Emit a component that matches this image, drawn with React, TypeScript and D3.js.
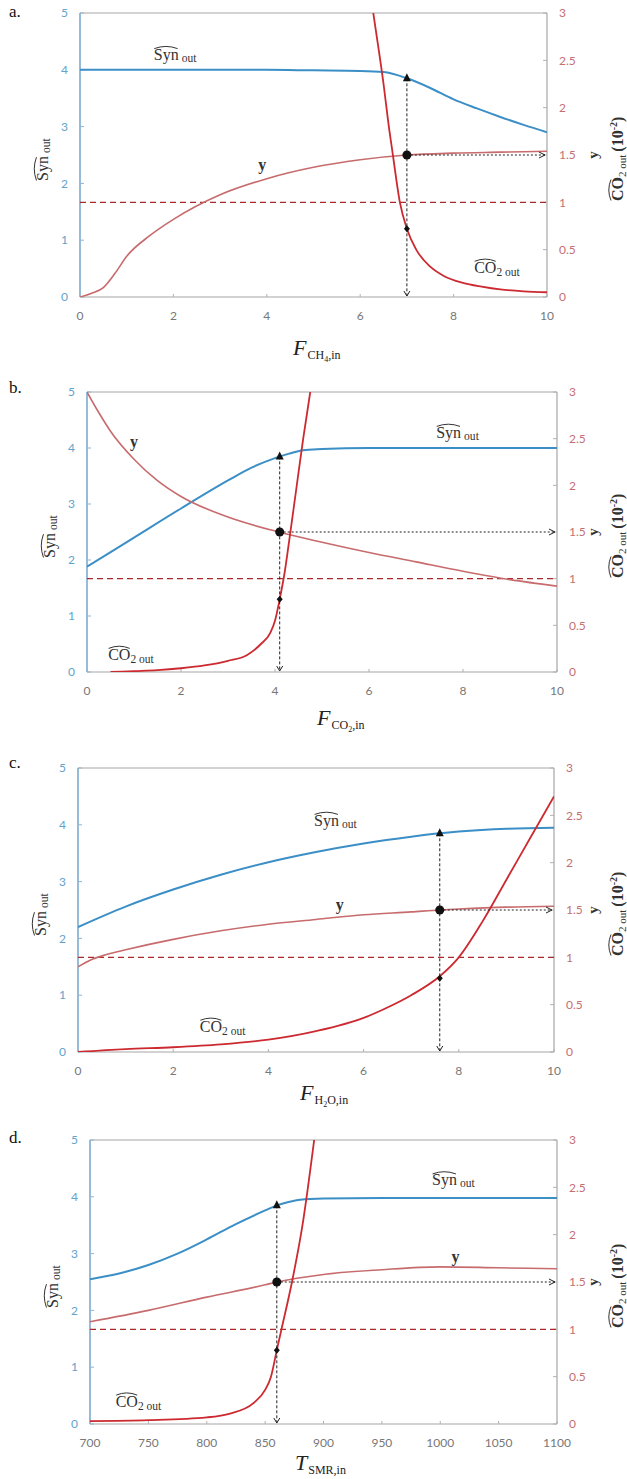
import React from 'react';
import * as d3 from 'd3';

// ---------- Data (left axis: Syn_out 0-5; right axis: y & CO2_out 0-3) ----------
// Panel a: F_CH4,in
const aSynX = [0, 1, 2, 3, 4, 5, 6, 6.5, 7, 7.5, 8, 8.5, 9, 9.5, 10];
const aSyn = [4.0, 4.0, 4.0, 4.0, 4.0, 3.99, 3.98, 3.96, 3.85, 3.68, 3.48, 3.32, 3.17, 3.03, 2.9];
const aYX = [0, 0.25, 0.5, 0.75, 1, 1.5, 2, 3, 4, 5, 6, 7, 8, 9, 10];
const aY = [0, 0.04, 0.1, 0.25, 0.43, 0.65, 0.82, 1.08, 1.25, 1.37, 1.45, 1.5, 1.52, 1.53, 1.54];
const aCO2X = [6.28, 6.4, 6.5, 6.6, 6.7, 6.85, 7.0, 7.2, 7.5, 7.8, 8.2, 8.6, 9, 9.5, 10];
const aCO2 = [3.0, 2.6, 2.25, 1.85, 1.5, 1.0, 0.72, 0.5, 0.32, 0.22, 0.15, 0.11, 0.08, 0.06, 0.05];

// Panel b: F_CO2,in
const bSynX = [0, 1, 2, 3, 3.5, 4, 4.3, 4.6, 5, 6, 8, 10];
const bSyn = [1.88, 2.4, 2.92, 3.42, 3.65, 3.82, 3.9, 3.96, 3.98, 4.0, 4.0, 4.0];
const bYX = [0, 0.25, 0.5, 1, 1.5, 2, 3, 4, 5, 6, 7, 8, 9, 10];
const bY = [3.0, 2.78, 2.58, 2.28, 2.05, 1.88, 1.66, 1.51, 1.39, 1.28, 1.18, 1.08, 0.99, 0.92];
const bCO2X = [0.5, 1, 1.5, 2, 2.5, 3, 3.4, 3.7, 3.9, 4.0, 4.1, 4.2, 4.3, 4.45, 4.6, 4.75];
const bCO2 = [0, 0.01, 0.02, 0.04, 0.07, 0.12, 0.18, 0.3, 0.42, 0.55, 0.78, 1.05, 1.4, 1.95, 2.5, 3.0];

// Panel c: F_H2O,in
const cSynX = [0, 1, 2, 3, 4, 5, 6, 7, 7.6, 8, 9, 10];
const cSyn = [2.2, 2.56, 2.86, 3.12, 3.34, 3.52, 3.67, 3.79, 3.85, 3.88, 3.93, 3.95];
const cYX = [0, 0.3, 0.6, 1, 2, 3, 4, 5, 6, 7, 7.6, 8, 9, 10];
const cY = [0.9, 0.98, 1.03, 1.08, 1.19, 1.28, 1.35, 1.4, 1.45, 1.48, 1.5, 1.51, 1.53, 1.54];
const cCO2X = [0, 1, 2, 3, 4, 5, 6, 6.5, 7, 7.6, 8, 8.5, 9, 9.5, 10];
const cCO2 = [0, 0.03, 0.05, 0.08, 0.13, 0.22, 0.36, 0.47, 0.6, 0.8, 1.0, 1.38, 1.82, 2.26, 2.7];

// Panel d: T_SMR,in
const dSynX = [700, 725, 750, 775, 800, 825, 850, 860, 870, 880, 900, 950, 1000, 1100];
const dSyn = [2.55, 2.65, 2.8, 3.0, 3.25, 3.52, 3.76, 3.85, 3.91, 3.95, 3.97, 3.98, 3.98, 3.98];
const dYX = [700, 750, 800, 850, 860, 900, 950, 1000, 1050, 1100];
const dY = [1.08, 1.2, 1.34, 1.47, 1.5, 1.58, 1.63, 1.66, 1.65, 1.64];
const dCO2X = [700, 750, 800, 820, 840, 850, 855, 860, 864, 873, 882, 892];
const dCO2 = [0.03, 0.04, 0.07, 0.11, 0.22, 0.36, 0.5, 0.78, 1.0, 1.5, 2.1, 3.0];

// Operating points
const markX = [7, 4.1, 7.6, 860];
const markSyn = [3.85, 3.85, 3.85, 3.85];
const markY = [1.5, 1.5, 1.5, 1.5];
const markCO2 = [0.72, 0.78, 0.78, 0.78];
const limitLine = 1; // right axis

const leftTicks = [0, 1, 2, 3, 4, 5];
const rightTicks = [0, 0.5, 1, 1.5, 2, 2.5, 3];
const rightTickLabels = ['0', '0.5', '1', '1.5', '2', '2.5', '3'];
const xTicksF = [0, 2, 4, 6, 8, 10];
const xTicksT = [700, 750, 800, 850, 900, 950, 1000, 1050, 1100];

const panelLetters = ['a.', 'b.', 'c.', 'd.'];

// ---------- Styles ----------
const C_SYN = '#3b8fc6';
const C_Y = '#c76b6d';
const C_CO2 = '#cc2a30';
const C_LIMIT = '#a82a2a';
const SERIF = '"Liberation Serif", "Times New Roman", serif';
const SANS = 'Lato, "Open Sans", sans-serif';

type Layout = {
  left: number; right: number; top: number; bottom: number;
  domain: [number, number]; ticks: number[];
  titleBase: number; titleX: number;
  synLab: [number, number]; yLab: [number, number]; co2Lab: [number, number];
  letterY: number;
};

const layouts: Layout[] = [
  { left: 80, right: 547, top: 13, bottom: 297, domain: [0, 10], ticks: xTicksF, titleBase: 355, titleX: 293,
    synLab: [1.58, 4.17], yLab: [3.9, 2.24], co2Lab: [8.44, 0.42], letterY: 17 },
  { left: 87, right: 557, top: 392, bottom: 672, domain: [0, 10], ticks: xTicksF, titleBase: 725, titleX: 317,
    synLab: [7.43, 4.18], yLab: [1.0, 4.02], co2Lab: [0.45, 0.21], letterY: 393 },
  { left: 78, right: 554, top: 768, bottom: 1052, domain: [0, 10], ticks: xTicksF, titleBase: 1100, titleX: 300,
    synLab: [4.96, 3.98], yLab: [5.5, 2.5], co2Lab: [2.56, 0.35], letterY: 768 },
  { left: 90, right: 557, top: 1140, bottom: 1424, domain: [700, 1100], ticks: xTicksT, titleBase: 1470, titleX: 295,
    synLab: [993, 4.2], yLab: [1013, 2.85], co2Lab: [722, 0.3], letterY: 1143 },
];

const series = [
  { synX: aSynX, syn: aSyn, yX: aYX, y: aY, co2X: aCO2X, co2: aCO2 },
  { synX: bSynX, syn: bSyn, yX: bYX, y: bY, co2X: bCO2X, co2: bCO2 },
  { synX: cSynX, syn: cSyn, yX: cYX, y: cY, co2X: cCO2X, co2: cCO2 },
  { synX: dSynX, syn: dSyn, yX: dYX, y: dY, co2X: dCO2X, co2: dCO2 },
];

const titleParts: { v: string; s: string; n?: string; t?: string }[] = [
  { v: 'F', s: 'CH', n: '4', t: ',in' },
  { v: 'F', s: 'CO', n: '2', t: ',in' },
  { v: 'F', s: 'H', n: '2', t: 'O,in' },
  { v: 'T', s: 'SMR,in' },
];

function Hat({ x, y, w, h = 4 }: { x: number; y: number; w: number; h?: number }) {
  return <path d={`M${x},${y} Q${x + w / 2},${y - h * 2} ${x + w},${y}`} fill="none" stroke="#333" strokeWidth={1} />;
}

function SynLabel({ x, y, fs = 16 }: { x: number; y: number; fs?: number }) {
  const w = fs * 1.52;
  return (
    <g>
      <text x={x} y={y} fontFamily={SERIF} fontSize={fs} fill="#333">
        Syn<tspan fontSize={fs * 0.72} dx={3} dy={2}>out</tspan>
      </text>
      <Hat x={x + 0.5} y={y - fs * 0.72} w={w - 1} h={2.2} />
    </g>
  );
}

function CO2Label({ x, y, fs = 16 }: { x: number; y: number; fs?: number }) {
  const w = fs * 1.38;
  return (
    <g>
      <text x={x} y={y} fontFamily={SERIF} fontSize={fs} fill="#333">
        CO<tspan fontSize={fs * 0.72} dy={3}>2 out</tspan>
      </text>
      <Hat x={x + 0.5} y={y - fs * 0.74} w={w - 1} h={2.2} />
    </g>
  );
}

function Panel({ i }: { i: number }) {
  const L = layouts[i];
  const S = series[i];
  const x = d3.scaleLinear().domain(L.domain).range([L.left, L.right]);
  const yl = d3.scaleLinear().domain([0, 5]).range([L.bottom, L.top]);
  const yr = d3.scaleLinear().domain([0, 3]).range([L.bottom, L.top]);

  const lineL = d3.line<[number, number]>().x(d => x(d[0])).y(d => yl(d[1])).curve(d3.curveMonotoneX);
  const lineR = d3.line<[number, number]>().x(d => x(d[0])).y(d => yr(d[1])).curve(d3.curveMonotoneX);
  const zip = (a: number[], b: number[]) => a.map((v, k) => [v, b[k]] as [number, number]);

  const clipId = `clip${i}`;
  const mx = x(markX[i]);
  const mSynY = yl(markSyn[i]);
  const mYY = yr(markY[i]);
  const mCO2Y = yr(markCO2[i]);
  const tp = titleParts[i];

  const synL = [x(L.synLab[0]), yl(L.synLab[1])];
  const yLb = [x(L.yLab[0]), yl(L.yLab[1])];
  const co2L = [x(L.co2Lab[0]), yl(L.co2Lab[1])];
  const midY = yr(1.5);
  const leftTitleY = (L.top + L.bottom) / 2;

  return (
    <g>
      <defs>
        <clipPath id={clipId}>
          <rect x={L.left} y={L.top} width={L.right - L.left} height={L.bottom - L.top} />
        </clipPath>
      </defs>
      {/* frame */}
      <line x1={L.left} x2={L.right} y1={L.top} y2={L.top} stroke="#a6a6a6" strokeWidth={1} />
      <line x1={L.left} x2={L.right} y1={L.bottom} y2={L.bottom} stroke="#a6a6a6" strokeWidth={1.2} />
      <line x1={L.right} x2={L.right} y1={L.top} y2={L.bottom} stroke="#a6a6a6" strokeWidth={1.2} />
      <line x1={L.left} x2={L.left} y1={L.top} y2={L.bottom} stroke="#6a9fc8" strokeWidth={1.4} />

      {/* left ticks */}
      {leftTicks.map(t => (
        <g key={'l' + t}>
          <line x1={L.left} x2={L.left + 4} y1={yl(t)} y2={yl(t)} stroke="#8fb5d2" />
          <text x={L.left - 12} y={yl(t)} dy="0.35em" textAnchor="end" fontFamily={SANS} fontSize={12} fill="#62a3cb">{t}</text>
        </g>
      ))}
      {/* right ticks */}
      {rightTicks.map((t, k) => (
        <g key={'r' + t}>
          <line x1={L.right - 4} x2={L.right} y1={yr(t)} y2={yr(t)} stroke="#b0b0b0" />
          <text x={L.right + 12} y={yr(t)} dy="0.35em" textAnchor="start" fontFamily={SANS} fontSize={12} fill="#c46f73">{rightTickLabels[k]}</text>
        </g>
      ))}
      {/* bottom ticks */}
      {L.ticks.map(t => (
        <g key={'b' + t}>
          <line x1={x(t)} x2={x(t)} y1={L.bottom} y2={L.bottom - 3} stroke="#b0b0b0" />
          <text x={x(t)} y={L.bottom + 19} dy="0.35em" textAnchor="middle" fontFamily={SANS} fontSize={12} fill="#777">{t}</text>
        </g>
      ))}

      <g clipPath={`url(#${clipId})`}>
        <line x1={L.left} x2={L.right} y1={yr(limitLine)} y2={yr(limitLine)} stroke={C_LIMIT} strokeWidth={1.4} strokeDasharray="6,4" />
        <path d={lineL(zip(S.synX, S.syn)) || ''} fill="none" stroke={C_SYN} strokeWidth={2} />
        <path d={lineR(zip(S.yX, S.y)) || ''} fill="none" stroke={C_Y} strokeWidth={1.6} />
        <path d={lineR(zip(S.co2X, S.co2)) || ''} fill="none" stroke={C_CO2} strokeWidth={1.8} />
      </g>

      {/* operating point guides */}
      <line x1={mx} x2={mx} y1={mSynY} y2={L.bottom - 1} stroke="#222" strokeWidth={1} strokeDasharray="3,2" />
      <path d={`M${mx - 3},${L.bottom - 6} L${mx},${L.bottom - 1} L${mx + 3},${L.bottom - 6}`} fill="none" stroke="#222" strokeWidth={1} />
      <line x1={mx} x2={L.right - 2} y1={mYY} y2={mYY} stroke="#222" strokeWidth={1.2} strokeDasharray="2,2" />
      <path d={`M${L.right - 8},${mYY - 3} L${L.right - 2},${mYY} L${L.right - 8},${mYY + 3}`} fill="none" stroke="#222" strokeWidth={1} />
      <path d={`M${mx},${mSynY - 5} L${mx + 4},${mSynY + 3} L${mx - 4},${mSynY + 3} Z`} fill="#111" />
      <circle cx={mx} cy={mYY} r={4.5} fill="#111" />
      <path d={`M${mx},${mCO2Y - 3.5} L${mx + 3},${mCO2Y} L${mx},${mCO2Y + 3.5} L${mx - 3},${mCO2Y} Z`} fill="#111" />

      {/* curve labels */}
      <SynLabel x={synL[0]} y={synL[1]} />
      <text x={yLb[0]} y={yLb[1]} textAnchor="middle" fontFamily={SERIF} fontWeight="bold" fontSize={16} fill="#333">y</text>
      <CO2Label x={co2L[0]} y={co2L[1]} />

      {/* left title */}
      <g transform={`translate(${L.left - 32},${leftTitleY + 26}) rotate(-90)`}>
        <SynLabel x={0} y={0} />
      </g>
      {/* right titles */}
      <text transform={`translate(${598},${midY}) rotate(-90)`} textAnchor="middle" fontFamily={SERIF} fontWeight="bold" fontSize={15} fill="#333">y</text>
      <g transform={`translate(${623},${midY + 46}) rotate(-90)`}>
        <text x={0} y={0} fontFamily={SERIF} fontWeight="bold" fontSize={16} fill="#333">
          CO<tspan fontSize={11} dy={3} fontWeight="normal">2 out</tspan>
          <tspan dy={-3} dx={3}>(10</tspan>
          <tspan fontSize={10} dy={-6}>-2</tspan>
          <tspan dy={6}>)</tspan>
        </text>
        <Hat x={0.5} y={-12} w={21} h={2.2} />
      </g>

      {/* x title */}
      <text x={L.titleX} y={L.titleBase} fontFamily={SERIF} fill="#222">
        <tspan fontStyle="italic" fontSize={22}>{tp.v}</tspan>
        <tspan fontSize={12} dy={4} dx={1}>{tp.s}</tspan>
        {tp.n && <tspan fontSize={8} dy={3}>{tp.n}</tspan>}
        {tp.t && <tspan fontSize={12} dy={-3}>{tp.t}</tspan>}
      </text>

      {/* panel letter */}
      <text x={9} y={L.letterY} fontFamily={SERIF} fontSize={17} fill="#111">{panelLetters[i]}</text>
    </g>
  );
}

export default function App() {
  return (
    <svg width={627} height={1479} style={{ position: 'absolute', left: 0, top: 0, background: '#fff' }}>
      <rect x={0} y={0} width={627} height={1479} fill="#fff" />
      {[0, 1, 2, 3].map(i => <Panel key={i} i={i} />)}
    </svg>
  );
}
